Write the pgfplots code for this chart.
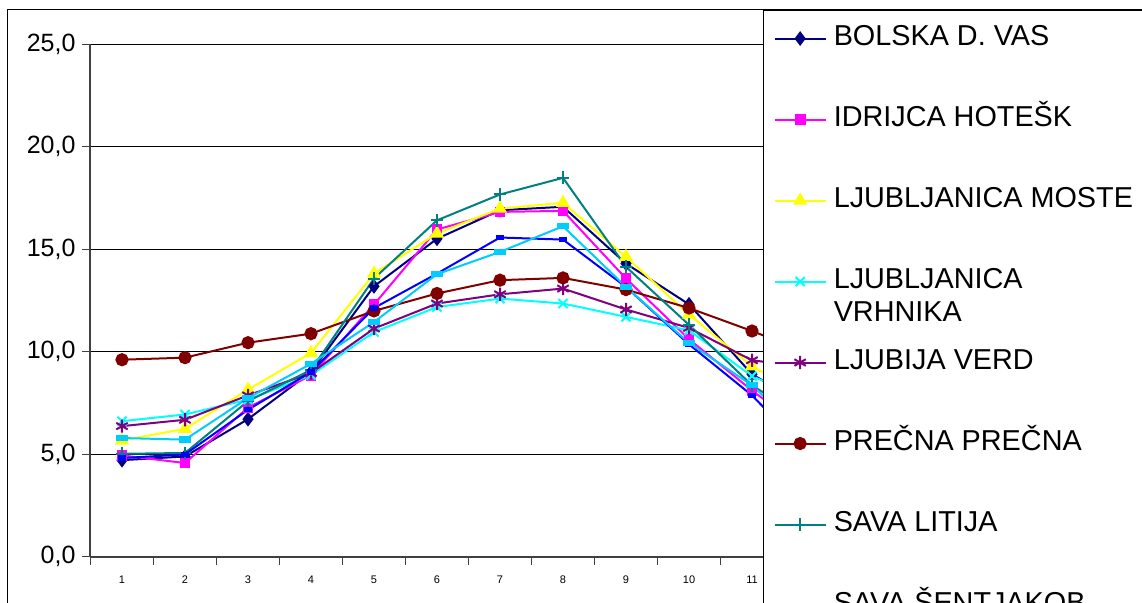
\documentclass[border=0pt]{standalone}
\usepackage{fontspec}
\setmainfont{Liberation Sans}
\usepackage{pgfplots}
\pgfplotsset{compat=1.18}

\definecolor{cNavy}{RGB}{0,0,128}
\definecolor{cMag}{RGB}{255,0,255}
\definecolor{cYel}{RGB}{255,255,0}
\definecolor{cCyan}{RGB}{0,255,255}
\definecolor{cPur}{RGB}{128,0,128}
\definecolor{cRed}{RGB}{128,0,0}
\definecolor{cTeal}{RGB}{0,128,128}
\definecolor{cBlue}{RGB}{0,0,255}
\definecolor{cSky}{RGB}{0,204,255}

\begin{document}
\begin{tikzpicture}
\useasboundingbox (0,0) rectangle (571pt,301pt);
\clip (0,0) rectangle (571pt,301pt);
\fill[white] (0,0) rectangle (571pt,301pt);
\draw[line width=0.5pt] (3.5pt,-20pt) rectangle (600pt,296.5pt);
\begin{axis}[
  at={(45.25pt,22.75pt)}, anchor=south west,
  scale only axis, width=378pt, height=256.25pt,
  xmin=0.5, xmax=12.5, ymin=0, ymax=25,
  axis lines*=left,
  axis line style={black!75, line width=1pt},
  ytick={0,5,...,25},
  ymajorgrids, grid style={black, line width=0.5pt},
  tick align=outside, major tick length=4pt,
  ytick style={black!75, line width=0.5pt},
  xtick={0.5,1.5,...,12.5}, xticklabels={},
  xtick style={black!75, line width=0.5pt},
  extra x ticks={1,...,12},
  extra x tick labels={1,2,3,4,5,6,7,8,9,10,11,12},
  extra x tick style={xtick style={draw=none}},
  xticklabel style={font=\fontsize{5.5}{6}\selectfont, yshift=-2pt},
  yticklabel style={font=\fontsize{12.5}{13}\selectfont, xshift=0pt,
    /pgf/number format/.cd, fixed, fixed zerofill, precision=1, use comma},
  /pgf/number format/assume math mode=true,
  legend cell align=left,
  legend image code/.code={\draw[mark repeat=2,mark phase=2,#1] plot coordinates {(0cm,0cm) (0.45cm,0cm) (0.9cm,0cm)};},
  legend style={at={(0.8896,1.0663)}, anchor=north west, draw=black, line width=0.5pt,
    fill=white, inner xsep=5pt, inner ysep=7.5pt,
    font=\fontsize{14.4}{16.5}\selectfont,
    nodes={inner sep=0pt, text height=10pt, text depth=3pt},
    row sep=27.5pt, /tikz/column sep=3.5pt},
  every axis plot/.append style={line width=1pt},
]
\addplot[cNavy, mark=diamond*, mark size=2.9pt, mark options={solid}] coordinates {
 (1,4.70) (2,4.88) (3,6.70) (4,9.00) (5,13.18) (6,15.50) (7,16.89) (8,17.06) (9,14.29) (10,12.30) (11,8.89) (12,7.10)};
\addlegendentry{BOLSKA D. VAS}
\addplot[cMag, mark=square*, mark size=2.2pt] coordinates {
 (1,4.93) (2,4.56) (3,7.26) (4,8.84) (5,12.29) (6,15.95) (7,16.81) (8,16.86) (9,13.56) (10,10.60) (11,8.10) (12,5.80)};
\addlegendentry{IDRIJCA HOTEŠK}
\addplot[cYel, mark=triangle*, mark size=3.1pt] coordinates {
 (1,5.66) (2,6.23) (3,8.14) (4,9.93) (5,13.80) (6,15.76) (7,16.97) (8,17.25) (9,14.62) (10,11.80) (11,9.28) (12,7.60)};
\addlegendentry{LJUBLJANICA MOSTE}
\addplot[cCyan, mark=x, mark size=3.2pt] coordinates {
 (1,6.60) (2,6.93) (3,7.65) (4,8.85) (5,10.95) (6,12.17) (7,12.58) (8,12.34) (9,11.69) (10,11.03) (11,8.80) (12,7.50)};
\addlegendentry{\smash{\begin{tabular}[t]{@{}l@{}}LJUBLJANICA\\VRHNIKA\end{tabular}}}
\addplot[cPur, mark=asterisk, mark size=3.3pt] coordinates {
 (1,6.36) (2,6.67) (3,7.86) (4,8.95) (5,11.12) (6,12.34) (7,12.79) (8,13.07) (9,12.05) (10,11.15) (11,9.57) (12,9.20)};
\addlegendentry{LJUBIJA VERD}
\addplot[cRed, mark=*, mark size=2.8pt] coordinates {
 (1,9.60) (2,9.70) (3,10.43) (4,10.87) (5,11.98) (6,12.83) (7,13.48) (8,13.59) (9,13.02) (10,12.12) (11,11.00) (12,9.80)};
\addlegendentry{PREČNA PREČNA}
\addplot[cTeal, mark=+, mark size=3.2pt] coordinates {
 (1,5.01) (2,5.05) (3,7.58) (4,9.10) (5,13.56) (6,16.40) (7,17.66) (8,18.47) (9,14.13) (10,11.30) (11,8.35) (12,6.40)};
\addlegendentry{SAVA LITIJA}
\addplot[cBlue, mark=square*, mark size=1.4pt, mark options={yscale=0.6}] coordinates {
 (1,4.80) (2,4.98) (3,7.16) (4,9.00) (5,12.12) (6,13.80) (7,15.56) (8,15.46) (9,13.15) (10,10.35) (11,7.86) (12,4.70)};
\addlegendentry{SAVA ŠENTJAKOB}
\addplot[cSky, mark=square*, mark size=2.4pt, mark options={yscale=0.45}, forget plot] coordinates {
 (1,5.78) (2,5.70) (3,7.73) (4,9.40) (5,11.44) (6,13.77) (7,14.86) (8,16.11) (9,13.15) (10,10.42) (11,8.35) (12,5.50)};
\end{axis}
\end{tikzpicture}
\end{document}
